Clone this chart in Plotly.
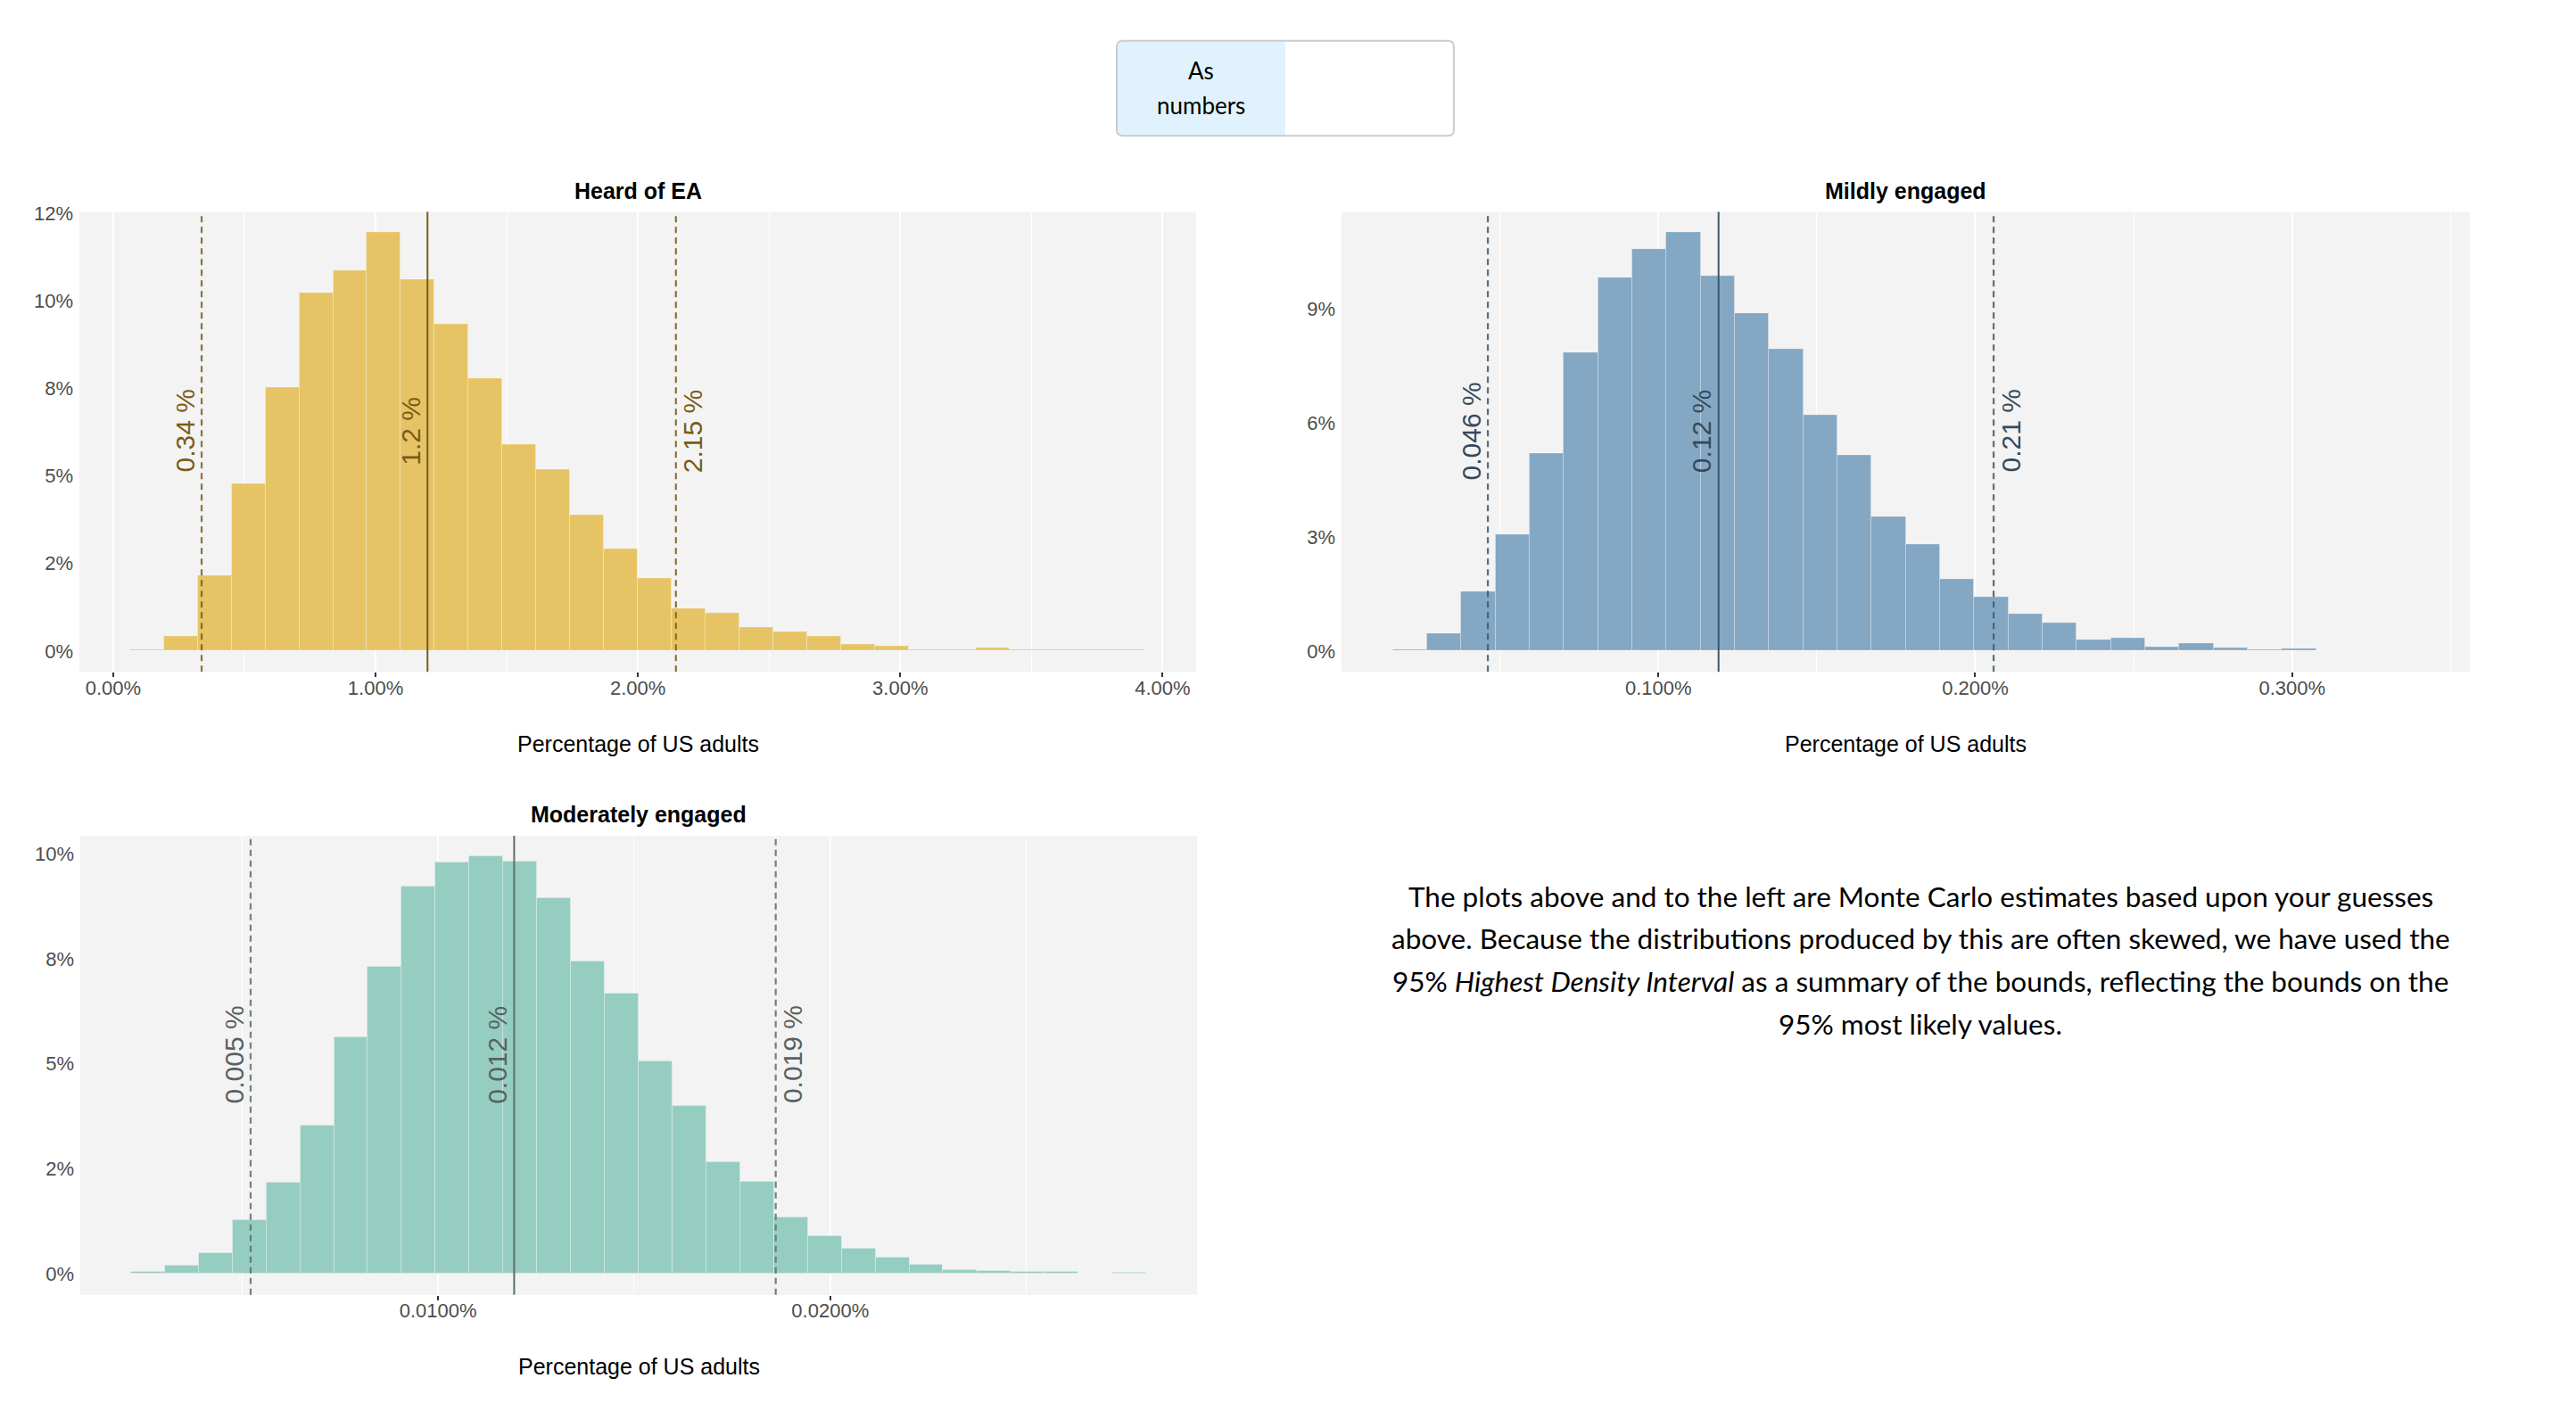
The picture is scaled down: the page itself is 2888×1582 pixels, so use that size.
import plotly.graph_objects as go

# ---------------- data ----------------
# Heard of EA (x in % of US adults, y in % of Monte Carlo samples)
heard_bin_start = 0.0645
heard_bin_width = 0.129
heard_pct = [0.02, 0.42, 2.15, 4.77, 7.52, 10.24, 10.87, 11.95, 10.60, 9.33,
             7.78, 5.90, 5.19, 3.88, 2.91, 2.06, 1.20, 1.08, 0.68, 0.53,
             0.41, 0.19, 0.13, 0.04, 0.03, 0.09, 0.02, 0.02, 0.02, 0.02]
heard_hdi = [0.337, 1.198, 2.145]
heard_hdi_labels = ["0.34 %", "1.2 %", "2.15 %"]
heard_xticks = [0, 1, 2, 3, 4]
heard_xticktext = ["0.00%", "1.00%", "2.00%", "3.00%", "4.00%"]
heard_xminor = [0.5, 1.5, 2.5, 3.5]
heard_yticks = [0, 2.5, 5, 7.5, 10, 12.5]
heard_yticktext = ["0%", "2%", "5%", "8%", "10%", "12%"]

# Mildly engaged
mild_bin_start = 0.0162
mild_bin_width = 0.01079
mild_pct = [0.02, 0.455, 1.552, 3.070, 5.204, 7.852, 9.817, 10.568, 11.015, 9.868,
            8.889, 7.953, 6.207, 5.153, 3.534, 2.792, 1.881, 1.408, 0.961, 0.725,
            0.295, 0.346, 0.093, 0.186, 0.076, 0.025, 0.042, 0.01, 0.01, 0.015]
mild_hdi = [0.0462, 0.119, 0.2058]
mild_hdi_labels = ["0.046 %", "0.12 %", "0.21 %"]
mild_xticks = [0.1, 0.2, 0.3]
mild_xticktext = ["0.100%", "0.200%", "0.300%"]
mild_xminor = [0.05, 0.15, 0.25, 0.35]
mild_yticks = [0, 3, 6, 9]
mild_yticktext = ["0%", "3%", "6%", "9%"]

# Moderately engaged
mod_bin_start = 0.00217
mod_bin_width = 0.000863
mod_pct = [0.055, 0.189, 0.487, 1.273, 2.162, 3.537, 5.636, 7.303, 9.221, 9.779,
           9.928, 9.803, 8.930, 7.429, 6.666, 5.063, 3.986, 2.649, 2.185, 1.344,
           0.888, 0.605, 0.393, 0.220, 0.094, 0.071, 0.055, 0.039, 0.0, 0.02]
mod_hdi = [0.00522, 0.01194, 0.01861]
mod_hdi_labels = ["0.005 %", "0.012 %", "0.019 %"]
mod_xticks = [0.01, 0.02]
mod_xticktext = ["0.0100%", "0.0200%"]
mod_xminor = [0.005, 0.015, 0.025]
mod_yticks = [0, 2.5, 5, 7.5, 10]
mod_yticktext = ["0%", "2%", "5%", "8%", "10%"]

titles = ["Heard of EA", "Mildly engaged", "Moderately engaged"]
x_title = "Percentage of US adults"
button_lines = ["As", "numbers"]
paragraph_lines = [
    "The plots above and to the left are Monte Carlo estimates based upon your guesses",
    "above. Because the distributions produced by this are often skewed, we have used the",
    "95% <i>Highest Density Interval</i> as a summary of the bounds, reflecting the bounds on the",
    "95% most likely values.",
]

# ---------------- layout helpers ----------------
W, H = 2888, 1582
OFF = 8
FW, FH = W - 2 * OFF, H - 2 * OFF


def px(x):
    return (x - OFF) / FW


def py(y):
    return 1 - (y - OFF) / FH


FONT = "Liberation Sans, Arial, sans-serif"
TEXTFONT = "Lato, sans-serif"

panels = [
    dict(start=heard_bin_start, width=heard_bin_width, pct=heard_pct, hdi=heard_hdi,
         hdi_labels=heard_hdi_labels, xt=heard_xticks, xtt=heard_xticktext, xm=heard_xminor,
         yt=heard_yticks, ytt=heard_yticktext, title=titles[0],
         box=(89, 1341, 229, 748), bar="#E6C465", line="#7A5B1C", text="#7A5B17"),
    dict(start=mild_bin_start, width=mild_bin_width, pct=mild_pct, hdi=mild_hdi,
         hdi_labels=mild_hdi_labels, xt=mild_xticks, xtt=mild_xticktext, xm=mild_xminor,
         yt=mild_yticks, ytt=mild_yticktext, title=titles[1],
         box=(1504, 2769, 229, 748), bar="#84A7C3", line="#3F5868", text="#36495A"),
    dict(start=mod_bin_start, width=mod_bin_width, pct=mod_pct, hdi=mod_hdi,
         hdi_labels=mod_hdi_labels, xt=mod_xticks, xtt=mod_xticktext, xm=mod_xminor,
         yt=mod_yticks, ytt=mod_yticktext, title=titles[2],
         box=(90, 1342, 933, 1451), bar="#96CDC1", line="#5C6E69", text="#56625F"),
]

fig = go.Figure()
shapes = []
annotations = []
layout_axes = {}

for i, p in enumerate(panels):
    k = "" if i == 0 else str(i + 1)
    n = len(p["pct"])
    edges_lo = [p["start"] + j * p["width"] for j in range(n)]
    centers = [e + p["width"] / 2 for e in edges_lo]
    x_lo = p["start"]
    x_hi = p["start"] + n * p["width"]
    xpad = 0.05 * (x_hi - x_lo)
    ymax = max(p["pct"])
    fig.add_trace(go.Bar(
        x=centers, y=p["pct"], width=p["width"],
        marker=dict(color=p["bar"], line=dict(color="rgba(255,255,255,0.25)", width=1)),
        xaxis="x" + k, yaxis="y" + k, hoverinfo="skip", showlegend=False))

    x0, x1, y0, y1 = p["box"]
    layout_axes["xaxis" + k] = dict(
        domain=[px(x0), px(x1)], anchor="y" + k,
        range=[x_lo - xpad, x_hi + xpad],
        tickmode="array", tickvals=p["xt"], ticktext=p["xtt"],
        showgrid=True, gridcolor="#FFFFFF", gridwidth=2,
        minor=dict(tickvals=p["xm"], showgrid=True, gridcolor="#FFFFFF", gridwidth=1, ticks=""),
        ticks="outside", ticklen=5, tickwidth=2, tickcolor="#333333",
        ticklabelstandoff=-7,
        tickfont=dict(family=FONT, size=22, color="#4D4D4D"),
        zeroline=False, showline=False, fixedrange=True)
    layout_axes["yaxis" + k] = dict(
        domain=[py(y1), py(y0)], anchor="x" + k,
        range=[-0.05 * ymax, 1.05 * ymax],
        tickmode="array", tickvals=p["yt"], ticktext=p["ytt"],
        showgrid=False, ticks="", ticklabelstandoff=6,
        tickfont=dict(family=FONT, size=22, color="#4D4D4D"),
        zeroline=False, showline=False, fixedrange=True)

    # HDI lines and labels
    for j, (v, lab) in enumerate(zip(p["hdi"], p["hdi_labels"])):
        median = (j == 1)
        shapes.append(dict(
            type="line", xref="x" + k, yref="y" + k + " domain",
            x0=v, x1=v, y0=0, y1=1, layer="above",
            line=dict(color=p["line"], width=2 if median else 2.2,
                      dash="solid" if median else "7px,5px"),
            opacity=1 if median else 0.85))
        annotations.append(dict(
            x=v, y=ymax / 2, xref="x" + k, yref="y" + k,
            text=lab, textangle=-90, showarrow=False,
            xshift=19 if j == 2 else -19, yshift=12,
            font=dict(family=FONT, size=30, color=p["text"])))

    # panel title
    annotations.append(dict(
        x=px((x0 + x1) / 2), y=py(y0 - 24), xref="paper", yref="paper",
        text="<b>" + p["title"] + "</b>", showarrow=False, xanchor="center", yanchor="middle",
        font=dict(family=FONT, size=25, color="#000000")))
    # x axis title
    annotations.append(dict(
        x=px((x0 + x1) / 2), y=py(y1 + 81), xref="paper", yref="paper",
        text=x_title, showarrow=False, xanchor="center", yanchor="middle",
        font=dict(family=FONT, size=25, color="#000000")))

# ---- toggle button ----
bx0, bx1, bmid, by0, by1, r = 1252, 1630, 1441, 36, 143, 7


def P(x, y):
    return f"{px(x):.6f},{py(y):.6f}"


left_path = (f"M {P(bx0 + r, by0)} L {P(bmid, by0)} L {P(bmid, by1)} L {P(bx0 + r, by1)} "
             f"Q {P(bx0, by1)} {P(bx0, by1 - r)} L {P(bx0, by0 + r)} Q {P(bx0, by0)} {P(bx0 + r, by0)} Z")
outline_path = (f"M {P(bx0 + r, by0)} L {P(bx1 - r, by0)} Q {P(bx1, by0)} {P(bx1, by0 + r)} "
                f"L {P(bx1, by1 - r)} Q {P(bx1, by1)} {P(bx1 - r, by1)} L {P(bx0 + r, by1)} "
                f"Q {P(bx0, by1)} {P(bx0, by1 - r)} L {P(bx0, by0 + r)} Q {P(bx0, by0)} {P(bx0 + r, by0)} Z")
shapes.append(dict(type="path", xref="paper", yref="paper", path=outline_path,
                   fillcolor="#FFFFFF", line=dict(width=0), layer="below"))
shapes.append(dict(type="path", xref="paper", yref="paper", path=left_path,
                   fillcolor="#E0F2FD", line=dict(width=0), layer="above"))
shapes.append(dict(type="path", xref="paper", yref="paper", path=outline_path,
                   fillcolor="rgba(0,0,0,0)", line=dict(color="#CCCCCC", width=2), layer="above"))
for j, (line_text, yy) in enumerate(zip(button_lines, [69, 109])):
    annotations.append(dict(
        x=px((bx0 + bmid) / 2), y=py(yy), xref="paper", yref="paper",
        text=line_text, showarrow=False, xanchor="center", yanchor="middle",
        font=dict(family=TEXTFONT, size=26, color="#000000")))

# ---- explanatory paragraph ----
for line_text, yy in zip(paragraph_lines, [1001, 1049, 1097, 1145]):
    annotations.append(dict(
        x=px(2153), y=py(yy), xref="paper", yref="paper",
        text=line_text, showarrow=False, xanchor="center", yanchor="middle",
        font=dict(family=TEXTFONT, size=31.5, color="#000000")))

fig.update_layout(
    width=FW, height=FH, autosize=False,
    margin=dict(l=0, r=0, t=0, b=0, pad=0),
    paper_bgcolor="#FFFFFF", plot_bgcolor="#F3F3F3",
    bargap=0, showlegend=False,
    shapes=shapes, annotations=annotations,
    **layout_axes)

fig.write_html("out.html")
